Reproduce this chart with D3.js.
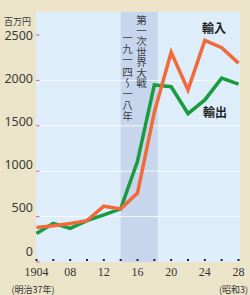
<!DOCTYPE html>
<html>
<head>
<meta charset="utf-8">
<script src="https://cdn.jsdelivr.net/npm/d3@7.9.0/dist/d3.min.js"></script>
<style>
  body { margin: 0; background: #ece4c8; }
  svg { display: block; }
</style>
</head>
<body>
<svg width="250" height="295"></svg>
<script>
// 日本の輸出入額（百万円）
const years = [1904, 1906, 1908, 1910, 1912, 1914, 1916, 1918, 1920, 1922, 1924, 1926, 1928];
const imports = [380, 400, 425, 455, 615, 585, 760, 1650, 2310, 1895, 2440, 2360, 2190];
const exports = [315, 425, 370, 455, 520, 585, 1110, 1950, 1930, 1635, 1785, 2025, 1960];
const yTicks = [0, 500, 1000, 1500, 2000, 2500];
const xTicks = [1904, 1908, 1912, 1916, 1920, 1924, 1928];
const xTickLabels = ['1904', '08', '12', '16', '20', '24', '28'];
const warYears = [1914, 1918.4];

const svg = d3.select('svg');

const x = d3.scaleLinear().domain([1904, 1928]).range([36.5, 238.5]);
const y = d3.scaleLinear().domain([0, 2500]).range([262, 35]);
// the tick labels in the original sit on a slightly tighter spacing than the ticks
const yLab = d3.scaleLinear().domain([0, 2500]).range([255.5, 40]);

// plot background
svg.append('rect')
  .attr('x', 36).attr('y', 12)
  .attr('width', 240 - 36).attr('height', 262 - 12)
  .attr('fill', '#ddeefa');

// WWI band
svg.append('rect')
  .attr('x', x(warYears[0])).attr('y', 12)
  .attr('width', x(warYears[1]) - x(warYears[0])).attr('height', 262 - 12)
  .attr('fill', '#c7d6ec');

// grid lines
svg.selectAll('.grid')
  .data(yTicks.filter(d => d > 0 && d < 2500))
  .join('line')
  .attr('x1', 36).attr('x2', 240)
  .attr('y1', d => y(d)).attr('y2', d => y(d))
  .attr('stroke', '#ffffff').attr('stroke-width', 1).attr('opacity', 0.8);

// y ticks + labels
svg.selectAll('.ytick')
  .data(yTicks)
  .join('line')
  .attr('x1', 36).attr('x2', 39.5)
  .attr('y1', d => y(d)).attr('y2', d => y(d))
  .attr('stroke', '#d9588a').attr('stroke-width', 1);

svg.selectAll('.ylab')
  .data(yTicks)
  .join('text')
  .attr('x', 33)
  .attr('y', d => yLab(d))
  .attr('text-anchor', 'end')
  .attr('font-family', '"Liberation Sans Narrow", "Noto Sans", sans-serif')
  .attr('font-size', 12.5)
  .attr('fill', '#3a3a3a')
  .text(d => d);

svg.append('text')
  .attr('x', 4).attr('y', 25)
  .attr('font-family', '"Noto Sans CJK JP", sans-serif')
  .attr('font-size', 9)
  .attr('fill', '#3a3a3a')
  .text('百万円');

// x ticks (dots every 2 years)
svg.selectAll('.xtick')
  .data(d3.range(1904, 1929, 2))
  .join('rect')
  .attr('x', d => x(d) - 1).attr('y', 259)
  .attr('width', 2).attr('height', 2)
  .attr('fill', '#222');

svg.selectAll('.xlab')
  .data(xTicks)
  .join('text')
  .attr('x', d => x(d))
  .attr('y', 276)
  .attr('text-anchor', 'middle')
  .attr('font-family', '"Liberation Serif", serif')
  .attr('font-size', 12)
  .attr('fill', '#333')
  .text((d, i) => xTickLabels[i]);

svg.append('text')
  .attr('x', 33).attr('y', 293)
  .attr('text-anchor', 'middle')
  .attr('font-family', '"Noto Sans CJK JP", serif')
  .attr('font-size', 9)
  .attr('fill', '#333')
  .text('(明治37年)');

svg.append('text')
  .attr('x', 248).attr('y', 293)
  .attr('text-anchor', 'end')
  .attr('font-family', '"Noto Sans CJK JP", serif')
  .attr('font-size', 9)
  .attr('fill', '#333')
  .text('(昭和3)');

// lines
const line = d3.line().x((d, i) => x(years[i])).y(d => y(d));

svg.append('path')
  .datum(exports)
  .attr('d', line)
  .attr('fill', 'none')
  .attr('stroke', '#1a9b40')
  .attr('stroke-width', 3.5);

svg.append('path')
  .datum(imports)
  .attr('d', line)
  .attr('fill', 'none')
  .attr('stroke', '#f26a3c')
  .attr('stroke-width', 3.5);

// series labels
svg.append('text')
  .attr('x', 214).attr('y', 33)
  .attr('text-anchor', 'middle')
  .attr('font-family', '"Noto Sans CJK JP", sans-serif')
  .attr('font-weight', 'bold')
  .attr('font-size', 12)
  .attr('fill', '#222')
  .text('輸入');

svg.append('text')
  .attr('x', 215).attr('y', 117)
  .attr('text-anchor', 'middle')
  .attr('font-family', '"Noto Sans CJK JP", sans-serif')
  .attr('font-weight', 'bold')
  .attr('font-size', 12)
  .attr('fill', '#222')
  .text('輸出');

// vertical war label (two columns, right one first)
svg.append('text')
  .attr('x', 141.5).attr('y', 15)
  .attr('writing-mode', 'vertical-rl')
  .attr('font-family', '"Noto Sans CJK JP", sans-serif')
  .attr('font-size', 10.5)
  .attr('fill', '#3a3f4a')
  .text('第一次世界大戦');

svg.append('text')
  .attr('x', 127.5).attr('y', 33)
  .attr('writing-mode', 'vertical-rl')
  .attr('font-family', '"Noto Sans CJK JP", sans-serif')
  .attr('font-size', 10.5)
  .attr('letter-spacing', 0.6)
  .attr('fill', '#3a3f4a')
  .text('一九一四～一八年');
</script>
</body>
</html>
